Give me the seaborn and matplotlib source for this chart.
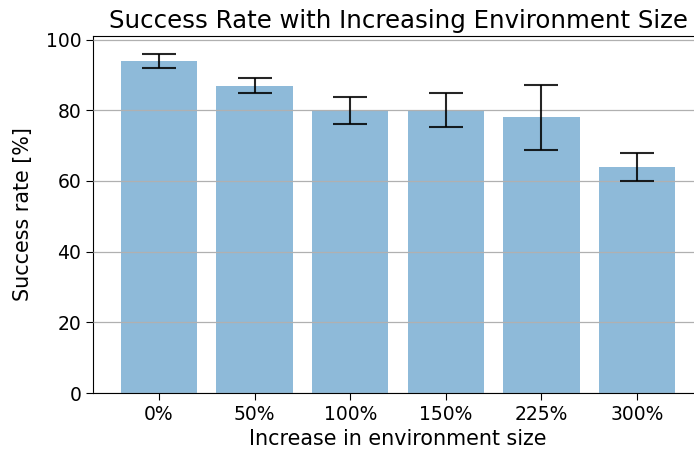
import matplotlib
matplotlib.use("Agg")
import matplotlib.pyplot as plt
import seaborn as sns
import pandas as pd

sizes = ["0%", "50%", "100%", "150%", "225%", "300%"]
success = [94.0, 87.0, 80.0, 80.0, 78.0, 64.0]
err_low = [2.0, 2.2, 3.8, 4.8, 9.2, 4.0]
err_high = [2.0, 2.2, 3.8, 4.8, 9.2, 3.8]

df = pd.DataFrame({"size": sizes, "success": success})

fig = plt.figure(figsize=(6.94, 4.57), dpi=100)
ax = fig.add_axes([0.134, 0.140, 0.879, 0.781])

sns.barplot(data=df, x="size", y="success", color="#1f77b4", alpha=0.5,
            width=0.8, errorbar=None, saturation=1, ax=ax, zorder=2)
ax.errorbar(range(len(sizes)), success, yerr=[err_low, err_high], fmt="none",
            ecolor="black", elinewidth=1.5, capsize=12.5, capthick=1.5,
            alpha=0.85, zorder=4)

ax.set_ylim(0, 101)
ax.yaxis.grid(True, color="#b0b0b0", linewidth=0.9, zorder=3)
ax.set_axisbelow(False)
ax.spines["right"].set_visible(False)
ax.patch.set_edgecolor("none")

scale = 1.35
ax.set_title("Success Rate with Increasing Environment Size", fontsize=13 * scale, pad=6)
ax.set_xlabel("Increase in environment size", fontsize=11 * scale)
ax.set_ylabel("Success rate [%]", fontsize=11 * scale, labelpad=9)
ax.tick_params(labelsize=10 * scale, length=5)

fig.savefig("out.png", dpi=100, facecolor="white")
